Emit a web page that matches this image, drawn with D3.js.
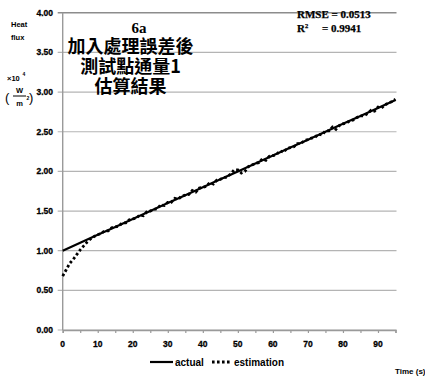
<!DOCTYPE html>
<html>
<head>
<meta charset="utf-8">
<script src="https://cdn.jsdelivr.net/npm/d3@7"></script>
<style>
  html, body { margin: 0; padding: 0; background: #fff; }
  svg { display: block; }
</style>
</head>
<body>
<svg id="chart" width="425" height="376"></svg>
<script>
// Time axis (s) and heat flux (x10^4 W/m^2)
const actualTime = [0, 5, 10, 15, 20, 25, 30, 35, 40, 45, 50, 55, 60, 65, 70, 75, 80, 85, 90, 95];
const actualFlux = [1.00, 1.10, 1.20, 1.30, 1.40, 1.50, 1.60, 1.70, 1.80, 1.90, 2.00, 2.10, 2.20, 2.30, 2.40, 2.50, 2.60, 2.70, 2.80, 2.90];

const estTime = [0, 1, 2, 3, 4, 5, 6, 7, 8, 9, 10, 11, 12, 13, 14, 15, 16, 17, 18, 19,
  20, 21, 22, 23, 24, 25, 26, 27, 28, 29, 30, 31, 32, 33, 34, 35, 36, 37, 38, 39,
  40, 41, 42, 43, 44, 45, 46, 47, 48, 49, 50, 51, 52, 53, 54, 55, 56, 57, 58, 59,
  60, 61, 62, 63, 64, 65, 66, 67, 68, 69, 70, 71, 72, 73, 74, 75, 76, 77, 78, 79,
  80, 81, 82, 83, 84, 85, 86, 87, 88, 89, 90, 91, 92, 93, 94, 95];
const estFlux = [0.68, 0.76, 0.84, 0.89, 0.95, 1.01, 1.06, 1.11, 1.15, 1.18, 1.20, 1.22, 1.25, 1.25, 1.29, 1.30, 1.31, 1.35, 1.35, 1.39,
  1.40, 1.41, 1.45, 1.44, 1.49, 1.50, 1.52, 1.53, 1.58, 1.57, 1.61, 1.61, 1.66, 1.65, 1.69, 1.70, 1.71, 1.76, 1.74, 1.79,
  1.80, 1.81, 1.86, 1.84, 1.89, 1.90, 1.92, 1.93, 1.97, 2.02, 2.02, 1.98, 2.00, 2.06, 2.08, 2.10, 2.11, 2.16, 2.14, 2.19,
  2.20, 2.21, 2.26, 2.24, 2.29, 2.30, 2.31, 2.35, 2.35, 2.39, 2.40, 2.42, 2.43, 2.47, 2.46, 2.51, 2.51, 2.56, 2.53, 2.58,
  2.60, 2.61, 2.64, 2.65, 2.68, 2.70, 2.70, 2.73, 2.77, 2.76, 2.81, 2.80, 2.84, 2.86, 2.88, 2.91];

const yTicks = [0, 0.5, 1.0, 1.5, 2.0, 2.5, 3.0, 3.5, 4.0];
const xTicks = [0, 10, 20, 30, 40, 50, 60, 70, 80, 90];
const xMinorTicks = [0, 5, 10, 15, 20, 25, 30, 35, 40, 45, 50, 55, 60, 65, 70, 75, 80, 85, 90, 95];
const chartId = "6a";
const titleLines = ["加入處理誤差後", "測試點通量1", "估算結果"];
const legendLabels = ["actual", "estimation"];

const svg = d3.select("#chart");
const x = d3.scaleLinear().domain([0, 95]).range([62.7, 395.5]);
const y = d3.scaleLinear().domain([0, 4]).range([330, 12.8]);

const numFont = "'Liberation Sans', Arial, sans-serif";
const serifFont = "'Liberation Serif', 'Times New Roman', serif";

// horizontal gridlines
svg.append("g").selectAll("line").data(yTicks).join("line")
  .attr("x1", x(0) - 5).attr("x2", x(95) + 1)
  .attr("y1", d => y(d)).attr("y2", d => y(d))
  .attr("stroke", d => d === 4 ? "#8c8c8c" : "#b4b4b4")
  .attr("stroke-width", d => d === 4 ? 1.6 : 1.2);

// y axis line
svg.append("line")
  .attr("x1", x(0)).attr("x2", x(0)).attr("y1", y(4)).attr("y2", y(0))
  .attr("stroke", "#9a9a9a").attr("stroke-width", 1.4);

// x axis via d3.axisBottom
const xAxis = svg.append("g").attr("transform", `translate(0,${y(0)})`)
  .call(d3.axisBottom(x).tickValues(xMinorTicks).tickSize(3).tickFormat(""));
xAxis.select(".domain").attr("stroke", "#9a9a9a").attr("stroke-width", 1.4);
xAxis.selectAll(".tick line").attr("stroke", "#9a9a9a").attr("stroke-width", 1.2);

svg.append("g").selectAll("text").data(xTicks).join("text")
  .attr("x", d => x(d)).attr("y", y(0) + 17)
  .attr("text-anchor", "middle")
  .attr("font-family", numFont).attr("font-weight", "bold").attr("font-size", 8.5)
  .attr("stroke", "#000").attr("stroke-width", 0.3)
  .text(d => d);

// y tick labels
svg.append("g").selectAll("text").data(yTicks).join("text")
  .attr("x", 53).attr("y", d => y(d) + 3)
  .attr("text-anchor", "end")
  .attr("font-family", numFont).attr("font-weight", "bold").attr("font-size", 8.5)
  .attr("stroke", "#000").attr("stroke-width", 0.3)
  .text(d => d.toFixed(2));

// lines
const actualPts = actualTime.map((t, i) => [t, actualFlux[i]]);
const estPts = estTime.map((t, i) => [t, estFlux[i]]);
const line = d3.line().x(d => x(d[0])).y(d => y(d[1]));

svg.append("path").datum(actualPts)
  .attr("d", line).attr("fill", "none")
  .attr("stroke", "#000").attr("stroke-width", 2.2);

svg.append("path").datum(estPts)
  .attr("d", line).attr("fill", "none")
  .attr("stroke", "#000").attr("stroke-width", 2.8)
  .attr("stroke-dasharray", "2.6,2.4");

// axis title on the left
const yt = svg.append("g").attr("font-family", numFont).attr("font-weight", "bold").attr("fill", "#000");
yt.append("text").attr("x", 11).attr("y", 27).attr("font-size", 7.5).text("Heat");
yt.append("text").attr("x", 11).attr("y", 40).attr("font-size", 7.5).text("flux");
yt.append("text").attr("x", 7).attr("y", 81).attr("font-size", 7.5).text("×10");
yt.append("text").attr("x", 22.5).attr("y", 76).attr("font-size", 5).text("4");
yt.append("text").attr("x", 5).attr("y", 102).attr("font-size", 13).attr("font-weight", "normal").text("(");
yt.append("text").attr("x", 19.5).attr("y", 93).attr("font-size", 7.5).attr("text-anchor", "middle").text("W");
yt.append("line").attr("x1", 13).attr("x2", 26).attr("y1", 96).attr("y2", 96).attr("stroke", "#000").attr("stroke-width", 1);
yt.append("text").attr("x", 19.5).attr("y", 106).attr("font-size", 7.5).attr("text-anchor", "middle").text("m");
yt.append("text").attr("x", 26.5).attr("y", 100).attr("font-size", 5).text("2");
yt.append("text").attr("x", 29).attr("y", 102).attr("font-size", 13).attr("font-weight", "normal").text(")");

// chart title block: id on the first row, Chinese caption below
const title = svg.append("text")
  .attr("text-anchor", "middle").attr("font-weight", "bold").attr("fill", "#000");
title.append("tspan").attr("x", 139).attr("y", 33)
  .attr("font-family", serifFont).attr("font-size", 15).text(chartId);
titleLines.forEach((t, i) => {
  title.append("tspan").attr("x", 130.5).attr("y", 53 + i * 20)
    .attr("font-family", "'Noto Sans CJK TC', sans-serif").attr("font-size", 18)
    .text(t);
});

// fit statistics
const stats = svg.append("g").attr("font-family", serifFont).attr("font-weight", "bold").attr("font-size", 11)
  .attr("stroke", "#000").attr("stroke-width", 0.25);
stats.append("text").attr("x", 297).attr("y", 18).text("RMSE = 0.0513");
stats.append("text").attr("x", 297).attr("y", 32).text("R");
stats.append("text").attr("x", 305).attr("y", 27.5).attr("font-size", 6.5).text("2");
stats.append("text").attr("x", 322).attr("y", 32).text("= 0.9941");

// legend
const lg = svg.append("g");
lg.append("line").attr("x1", 150).attr("x2", 173).attr("y1", 362).attr("y2", 362)
  .attr("stroke", "#000").attr("stroke-width", 2.2);
lg.append("text").attr("x", 175).attr("y", 365.5)
  .attr("font-family", numFont).attr("font-weight", "bold").attr("font-size", 10).text(legendLabels[0]);
lg.append("line").attr("x1", 212).attr("x2", 231).attr("y1", 362).attr("y2", 362)
  .attr("stroke", "#000").attr("stroke-width", 2.8).attr("stroke-dasharray", "2.6,2.4");
lg.append("text").attr("x", 234).attr("y", 365.5)
  .attr("font-family", numFont).attr("font-weight", "bold").attr("font-size", 10).text(legendLabels[1]);

// x axis title, runs off the right edge
svg.append("text").attr("x", 395).attr("y", 374)
  .attr("font-family", numFont).attr("font-weight", "bold").attr("font-size", 8)
  .text("Time (s)");
</script>
</body>
</html>
